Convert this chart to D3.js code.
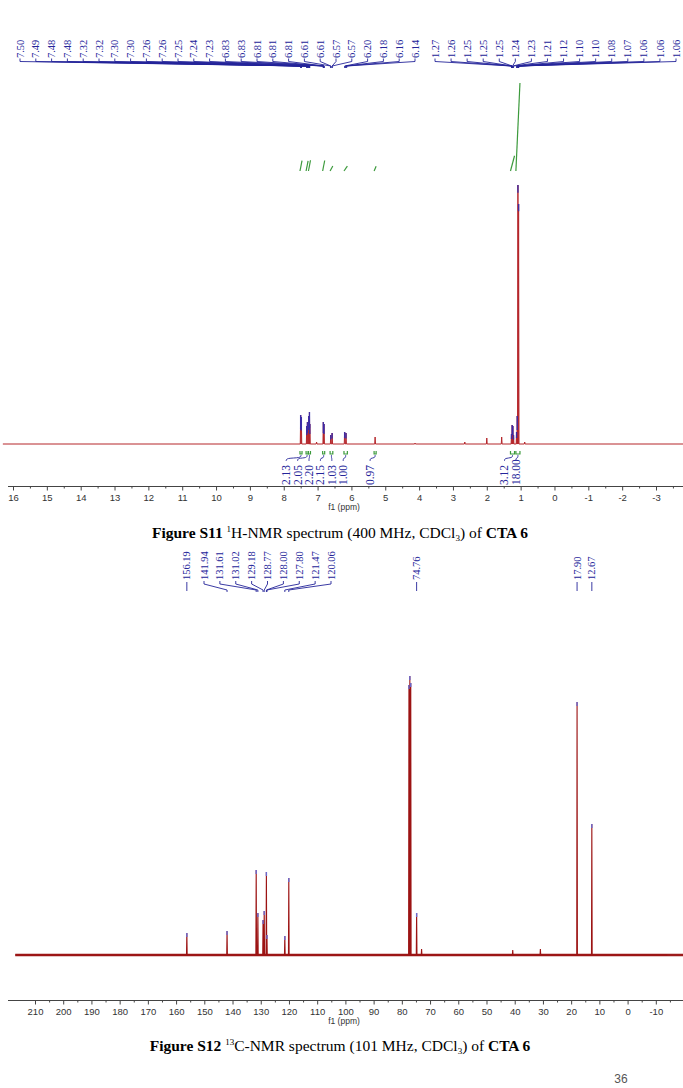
<!DOCTYPE html>
<html>
<head>
<meta charset="utf-8">
<script src="https://cdn.jsdelivr.net/npm/d3@7"></script>
<style>
  body { margin: 0; background: #fff; }
  svg { display: block; }
</style>
</head>
<body>
<div id="chartContainer"></div>
<script>
// ---- 1H spectrum (400 MHz) ----
const hPeakPpm    = [7.50, 7.48, 7.32, 7.30, 7.26, 7.24, 7.23, 7.03, 6.83, 6.81, 6.61, 6.57, 6.20, 6.16, 5.30, 4.12, 2.65, 2.00, 1.56, 1.27, 1.25, 1.23, 1.21, 1.12, 1.10, 1.08, 1.06, 0.88];
const hPeakHeight = [29,   27,   18,   22,   28,   32,   20,   2,    22,   20,   9,    11,   12,   11,   7,    1,    2,    6,    7,    10,   19,   18,   9,    12,   28,   259,  240,  2];

const hLabelsA = ["7.50","7.49","7.48","7.48","7.32","7.32","7.30","7.30","7.26","7.26","7.25","7.24","7.23","6.83","6.83","6.81","6.81","6.81","6.61","6.61","6.57","6.57","6.20","6.18","6.16","6.14"];
const hLabelsB = ["1.27","1.26","1.25","1.25","1.25","1.24","1.23","1.21","1.12","1.10","1.10","1.08","1.07","1.06","1.06","1.06"];

const intFrom  = [7.52, 7.34, 7.27, 6.85, 6.63, 6.22, 5.33, 1.30, 1.14];
const intTo    = [7.46, 7.28, 7.21, 6.79, 6.55, 6.12, 5.27, 1.18, 1.02];
const intValue = ["2.13", "2.05", "2.20", "2.15", "1.03", "1.00", "0.97", "3.12", "18.00"];

const hTicks = [16, 15, 14, 13, 12, 11, 10, 9, 8, 7, 6, 5, 4, 3, 2, 1, 0, -1, -2, -3];

// ---- 13C spectrum (101 MHz) ----
const cPeakPpm    = [156.19, 141.94, 131.61, 131.02, 129.18, 128.77, 128.00, 127.80, 121.47, 120.06, 77.48, 77.16, 76.84, 74.76, 73.0, 40.7, 30.9, 17.90, 12.67];
const cPeakHeight = [22,     24,     85,     42,     35,     44,     83,     20,     19,     77,     270,   279,   272,   42,    6,    5,    6,    253,   131];

const cLabelsSingle = ["156.19", "74.76", "17.90", "12.67"];
const cLabelsGroup  = ["141.94","131.61","131.02","129.18","128.77","128.00","127.80","121.47","120.06"];

const cTicks = [210, 200, 190, 180, 170, 160, 150, 140, 130, 120, 110, 100, 90, 80, 70, 60, 50, 40, 30, 20, 10, 0, -10];

function createChart() {
    const width = 683;
    const height = 1088;

    const navy = "#25259a";
    const green = "#3c9a3c";
    const serif = "'Liberation Serif', 'Times New Roman', serif";
    const sans = "'Liberation Sans', Arial, sans-serif";

    const svg = d3.create("svg")
        .attr("viewBox", [0, 0, width, height])
        .attr("width", width)
        .attr("height", height);

    // spike path from a peak list
    const spectrumPath = (ppm, hgt, x, y, hw, lo, hi) => {
        const pts = [[hi, 0]];
        d3.range(ppm.length)
            .sort((a, b) => ppm[b] - ppm[a])
            .forEach(i => {
                pts.push([ppm[i] + hw, 0], [ppm[i], hgt[i]], [ppm[i] - hw, 0]);
            });
        pts.push([lo, 0]);
        return d3.line().x(d => x(d[0])).y(d => y(d[1]))(pts);
    };

    const drawAxis = (x, ticks, step, yPos, labelY) => {
        const g = svg.append("g").attr("transform", `translate(0,${yPos})`);
        g.append("line")
            .attr("x1", 8).attr("x2", width)
            .attr("stroke", "#444").attr("stroke-width", 1);
        g.call(d3.axisBottom(x).tickValues(ticks.map(v => v - step / 2)).tickSize(2).tickFormat(""))
            .call(g => g.select(".domain").remove());
        const major = svg.append("g").attr("transform", `translate(0,${yPos})`)
            .call(d3.axisBottom(x).tickValues(ticks).tickSize(4).tickPadding(4).tickFormat(d => String(d)))
            .call(g => g.select(".domain").remove());
        svg.selectAll(".tick line").attr("stroke", "#444");
        major.selectAll("text")
            .attr("font-family", sans).attr("font-size", 9.5).attr("fill", "#333");
        svg.append("text")
            .attr("x", 344).attr("y", labelY)
            .attr("text-anchor", "middle")
            .attr("font-family", sans).attr("font-size", 8.5).attr("fill", "#333")
            .text("f1 (ppm)");
    };

    const rotLabel = (g, lx, yBottom, txt, size, fill) => {
        g.append("text")
            .attr("transform", `translate(${lx + size * 0.34},${yBottom}) rotate(-90)`)
            .attr("font-family", serif).attr("font-size", size).attr("fill", fill)
            .text(txt);
    };

    const caption = (y, num, sup, nucleus, mhz) => {
        const cap = svg.append("text")
            .attr("x", 340).attr("y", y).attr("text-anchor", "middle")
            .attr("font-family", serif).attr("font-size", 15.5).attr("fill", "#000");
        cap.append("tspan").attr("font-weight", "bold").text(`Figure ${num} `);
        cap.append("tspan").attr("font-size", 9).attr("dy", -6).text(sup);
        cap.append("tspan").attr("dy", 6).text(`${nucleus}-NMR spectrum (${mhz} MHz, CDCl`);
        cap.append("tspan").attr("font-size", 9).attr("dy", 3).text("3");
        cap.append("tspan").attr("dy", -3).text(") of ");
        cap.append("tspan").attr("font-weight", "bold").text("CTA 6");
    };

    // ================= 1H =================
    const x1 = d3.scaleLinear().domain([16, -3]).range([13, 656]);
    const y1 = d3.scaleLinear().domain([0, 259]).range([444, 185]);

    svg.append("path")
        .attr("d", spectrumPath(hPeakPpm, hPeakHeight, x1, y1, 0.012, -3.9, 16.3))
        .attr("fill", "none").attr("stroke", "#b5262b").attr("stroke-width", 1);

    // peak-picking marks on tops
    svg.append("g").selectAll("line")
        .data(d3.range(hPeakPpm.length).filter(i => hPeakHeight[i] >= 9))
        .join("line")
        .attr("x1", i => x1(hPeakPpm[i])).attr("x2", i => x1(hPeakPpm[i]))
        .attr("y1", i => y1(hPeakHeight[i]))
        .attr("y2", i => y1(hPeakHeight[i] * (hPeakHeight[i] > 100 ? 0.97 : 0.5)))
        .attr("stroke", "#2d2db5").attr("stroke-width", 1.4).attr("opacity", 0.85);

    // peak labels with connectors
    const hLab = svg.append("g");
    const drawGroup = (labels, range, xs, yText, yTick, yJoin, yEnd, size) => {
        const lx = d3.scalePoint().domain(d3.range(labels.length)).range(range);
        labels.forEach((t, i) => {
            const px = xs(parseFloat(t));
            hLab.append("path")
                .attr("d", d3.line()([[lx(i), yTick], [lx(i), yTick + 3], [px, yJoin], [px, yEnd]]))
                .attr("fill", "none").attr("stroke", navy).attr("stroke-width", 0.9);
            rotLabel(hLab, lx(i), yText, t, size, navy);
        });
    };
    drawGroup(hLabelsA, [20, 415], x1, 58, 58.5, 66, 68, 10.5);
    drawGroup(hLabelsB, [435, 676], x1, 58, 58.5, 66, 68, 10.5);

    // integral curves
    const yInt = d3.scaleLinear().domain([0, 18]).range([171, 83]);
    svg.append("g").selectAll("line")
        .data(intValue)
        .join("line")
        .attr("x1", (d, i) => x1(intFrom[i])).attr("x2", (d, i) => x1(intTo[i]))
        .attr("y1", yInt(0)).attr("y2", d => yInt(+d))
        .attr("stroke", green).attr("stroke-width", 1.2);

    // integration labels under the spectrum
    const centers = intValue.map((d, i) => (x1(intFrom[i]) + x1(intTo[i])) / 2);
    const gap = 11.4;
    const pos = centers.slice();
    const clusters = [[0]];
    for (let i = 1; i < pos.length; i++) {
        const c = clusters[clusters.length - 1];
        if (centers[i] - centers[c[c.length - 1]] < gap * 1.6) c.push(i); else clusters.push([i]);
    }
    clusters.forEach(c => {
        const m = d3.mean(c, i => centers[i]) - 5;
        c.forEach((i, k) => pos[i] = m + (k - (c.length - 1) / 2) * gap);
    });
    const intG = svg.append("g");
    intValue.forEach((d, i) => {
        const a = x1(intFrom[i]), b = x1(intTo[i]);
        intG.append("path")
            .attr("d", d3.line()([[a, 451], [a, 454], [b, 454], [b, 451]]))
            .attr("fill", "none").attr("stroke", green).attr("stroke-width", 1.2);
        intG.append("path")
            .attr("d", d3.line().curve(d3.curveBasis)([[centers[i], 455], [centers[i], 458], [pos[i], 458], [pos[i], 461]]))
            .attr("fill", "none").attr("stroke", navy).attr("stroke-width", 0.9);
        rotLabel(intG, pos[i], 485, d, 11.5, navy);
    });

    drawAxis(x1, hTicks, 1, 486.5, 510);
    caption(538, "S11", "1", "H", "400");

    // ================= 13C =================
    const x2 = d3.scaleLinear().domain([210, -10]).range([35, 655.8]);
    const y2 = d3.scaleLinear().domain([0, 279]).range([955, 676]);

    // noisy baseline look
    svg.append("line")
        .attr("x1", x2(217)).attr("x2", width)
        .attr("y1", y2(0)).attr("y2", y2(0))
        .attr("stroke", "#9c1b1b").attr("stroke-width", 2.4);
    svg.append("path")
        .attr("d", spectrumPath(cPeakPpm, cPeakHeight, x2, y2, 0.12, -14, 217))
        .attr("fill", "none").attr("stroke", "#9c1313").attr("stroke-width", 1.1);

    svg.append("g").selectAll("line")
        .data(d3.range(cPeakPpm.length).filter(i => cPeakHeight[i] >= 15))
        .join("line")
        .attr("x1", i => x2(cPeakPpm[i])).attr("x2", i => x2(cPeakPpm[i]))
        .attr("y1", i => y2(cPeakHeight[i])).attr("y2", i => y2(cPeakHeight[i]) + 4)
        .attr("stroke", "#6a6ad0").attr("stroke-width", 1.4);

    const cLab = svg.append("g");
    cLabelsSingle.forEach(t => {
        const px = x2(parseFloat(t));
        cLab.append("line")
            .attr("x1", px).attr("x2", px).attr("y1", 582).attr("y2", 591)
            .attr("stroke", navy).attr("stroke-width", 0.9);
        rotLabel(cLab, px, 580, t, 10.5, navy);
    });
    const lx2 = d3.scalePoint().domain(d3.range(cLabelsGroup.length)).range([204, 331]);
    cLabelsGroup.forEach((t, i) => {
        const px = x2(parseFloat(t));
        cLab.append("path")
            .attr("d", d3.line()([[lx2(i), 581], [lx2(i), 584], [px, 590], [px, 592]]))
            .attr("fill", "none").attr("stroke", navy).attr("stroke-width", 0.9);
        rotLabel(cLab, lx2(i), 580, t, 10.5, navy);
    });

    drawAxis(x2, cTicks, 10, 1000.5, 1024);
    caption(1051, "S12", "13", "C", "101");

    // page number
    svg.append("text")
        .attr("x", 621).attr("y", 1083).attr("text-anchor", "middle")
        .attr("font-family", sans).attr("font-size", 12).attr("fill", "#555")
        .text("36");

    return svg.node();
}

document.getElementById("chartContainer").appendChild(createChart());
</script>
</body>
</html>
